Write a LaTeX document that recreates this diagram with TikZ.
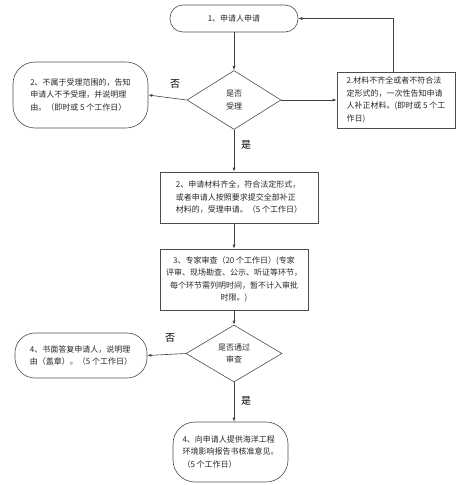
\documentclass[tikz,border=0pt]{standalone}
\usepackage{fontspec}
\setmainfont{Noto Sans CJK SC}
\usetikzlibrary{shapes.geometric,arrows.meta}
\begin{document}
\begin{tikzpicture}[x=1pt,y=-1pt,
  every node/.style={font=\fontsize{8}{12.5}\selectfont, text=black!85},
  box/.style={draw=black!70, line width=0.6pt, rectangle, inner sep=0pt, align=left},
  round/.style={draw=black!70, line width=0.6pt, rectangle, rounded corners=#1, inner sep=0pt, align=left},
  dia/.style={draw=black!70, line width=0.6pt, diamond, inner sep=0pt, align=center},
  arr/.style={draw=black!75, line width=0.6pt, -{Latex[length=4pt,width=3pt]}},
  lab/.style={font=\fontsize{10}{12}\selectfont, text=black}
]
\useasboundingbox (0,0) rectangle (464,485);

\node[round=13pt, minimum width=128pt, minimum height=27pt, align=center] (n1) at (234,18.5) {1、申请人申请};
\node[dia, minimum width=94pt, minimum height=59pt] (d1) at (234,100) {是否\\受理};
\node[round=22pt, minimum width=135pt, minimum height=66pt] (n2L) at (80.5,95) {2、不属于受理范围的，告知\\申请人不予受理，并说明理\\由。（即时或 5 个工作日）};
\node[box, minimum width=118pt, minimum height=56pt] (n2R) at (396,100) {2.材料不齐全或者不符合法\\定形式的，一次性告知申请\\人补正材料。(即时或 5 个工\\作日)};
\node[box, minimum width=158pt, minimum height=51pt] (n3) at (239,197.5) {2、申请材料齐全，符合法定形式，\\或者申请人按照要求提交全部补正\\材料的，受理申请。（5 个工作日）};
\node[box, minimum width=148pt, minimum height=61pt, align=center] (n4) at (234,279.5) {3、专家审查（20 个工作日）(专家\\评审、现场勘查、公示、听证等环节，\\每个环节需列明时间，暂不计入审批\\时限。)};
\node[dia, minimum width=96pt, minimum height=57pt] (d2) at (234,353.5) {是否通过\\审查};
\node[round=20pt, minimum width=132pt, minimum height=45pt] (n5L) at (81,355.5) {4、书面答复申请人，说明理\\由（盖章）。（5 个工作日）};
\node[round=22pt, minimum width=115pt, minimum height=60pt] (n6) at (230.5,452) {4、向申请人提供海洋工程\\环境影响报告书核准意见。\\（5 个工作日）};

\coordinate (c1) at (393,18.5);

\draw[arr] (n1.south) -- (d1.north);
\draw[arr] (d1.west) -- (n2L.east);
\draw[arr] (d1.east) -- (n2R.west);
\draw[arr] (n2R.north -| c1) -- (c1) -- (n1.east);
\draw[arr] (d1.south) -- (d1.south |- n3.north);
\draw[arr] (d1.south |- n3.south) -- (d1.south |- n4.north);
\draw[arr] (n4.south) -- (d2.north);
\draw[arr] (d2.west) -- (n5L.east);
\draw[arr] (d2.south) -- (d2.south |- n6.north);

\node[lab] (no1) at (175,84) {否};
\node[lab] (yes1) at (246,145) {是};
\node[lab] (no2) at (170,338) {否};
\node[lab] (yes2) at (246,401) {是};
\end{tikzpicture}
\end{document}
